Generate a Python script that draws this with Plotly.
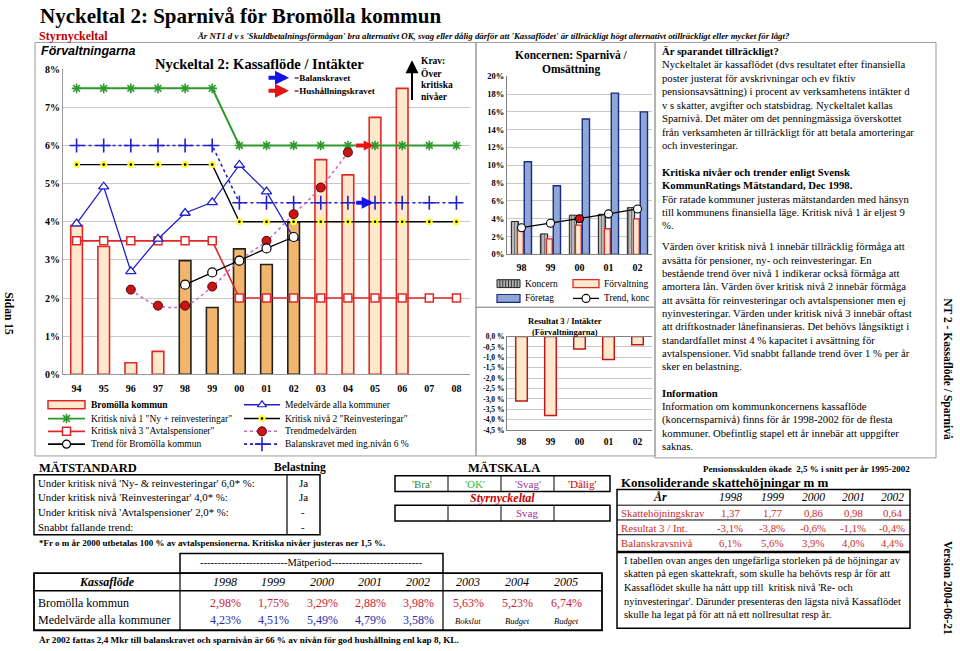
import plotly.graph_objects as go

W, H = 960, 651
SERIF = "Liberation Serif"
SANS = "Liberation Sans"

# ------------------------------------------------------------------ data
years_main = ['94', '95', '96', '97', '98', '99', '00', '01', '02',
              '03', '04', '05', '06', '07', '08']
period_years = ['98', '99', '00', '01', '02']
bromolla = [3.90, 3.35, 0.30, 0.60, 2.98, 1.75, 3.29, 2.88, 3.98,
            5.63, 5.23, 6.74, 7.50, None, None]
krit1 = [7.5, 7.5, 7.5, 7.5, 7.5, 7.5, 6.0, 6.0, 6.0, 6.0, 6.0, 6.0, 6.0, 6.0, 6.0]
krit2 = [5.5, 5.5, 5.5, 5.5, 5.5, 5.5, 4.0, 4.0, 4.0, 4.0, 4.0, 4.0, 4.0, 4.0, 4.0]
krit3 = [3.5, 3.5, 3.5, 3.5, 3.5, 3.5, 2.0, 2.0, 2.0, 2.0, 2.0, 2.0, 2.0, 2.0, 2.0]
medel = [3.95, 4.92, 2.70, 3.55, 4.23, 4.51, 5.49, 4.79, 3.58,
         None, None, None, None, None, None]
trendmedel = [None, None, 2.22, 1.80, 1.80, 2.30, 2.98, 3.50, 4.20,
              4.90, 5.82, None, None, None, None]
trend_brom = [None, None, None, None, 2.35, 2.67, 2.98, 3.30, 3.60,
              None, None, None, None, None, None]
balans = [6.0, 6.0, 6.0, 6.0, 6.0, 6.0, 4.5, 4.5, 4.5, 4.5, 4.5, 4.5, 4.5, 4.5, 4.5]
arrow_year = '04'
hushallning_niva = 6.0
balanskrav_niva = 4.5

k_years = ['98', '99', '00', '01', '02']
koncern = [3.70, 2.30, 4.40, 4.50, 5.25]
forvaltning = [2.98, 1.75, 3.29, 2.88, 3.98]
foretag = [10.4, 7.7, 15.2, 18.1, 16.0]
trend_konc = [3.0, 3.5, 4.0, 4.55, 5.1]

res_years = ['98', '99', '00', '01', '02']
resultat3 = [-3.1, -3.8, -0.6, -1.1, -0.4]
res_tickvals = [0.0, -0.5, -1.0, -1.5, -2.0, -2.5, -3.0, -3.5, -4.0, -4.5]
res_ticktext = ['0,0 %', '-0,5 %', '-1,0 %', '-1,5 %', '-2,0 %', '-2,5 %',
                '-3,0 %', '-3,5 %', '-4,0 %', '-4,5 %']

kassa_years = ['1998', '1999', '2000', '2001', '2002', '2003', '2004', '2005']
kassa_brom = [2.98, 1.75, 3.29, 2.88, 3.98, 5.63, 5.23, 6.74]
kassa_medel = [4.23, 4.51, 5.49, 4.79, 3.58]
kassa_notes = ['Bokslut', 'Budget', 'Budget']

kons_years = ['1998', '1999', '2000', '2001', '2002']
skatt = [1.37, 1.77, 0.86, 0.98, 0.64]
res3_int = [-3.1, -3.8, -0.6, -1.1, -0.4]
balansniva = [6.1, 5.6, 3.9, 4.0, 4.4]

matstd_rows = ["Under kritisk nivå 'Ny- & reinvesteringar' 6,0* %:",
               "Under kritisk nivå 'Reinvesteringar' 4,0* %:",
               "Under kritisk nivå 'Avtalspensioner' 2,0* %:",
               "Snabbt fallande trend:"]
belastning = ['Ja', 'Ja', '-', '-']
skala = ["'Bra'", "'OK'", "'Svag'", "'Dålig'"]
skala_colors = ['#2E8B2E', '#33BB33', '#993399', '#CC0000']
skala_result = ['', '', 'Svag', '']


def pct(v, d=2):
    return (f"{v:.{d}f}").replace('.', ',') + '%'


# ------------------------------------------------------------------ figure
fig = go.Figure()
xi = list(range(len(years_main)))

LIGHT = '#FEE9CC'
DARK = '#F3B56C'
RED = '#E02828'
BLUE = '#2020CC'
GREEN = '#2E9A2E'

bar_fill = [DARK if y in period_years else LIGHT for y in years_main]
bar_line = ['#222222' if y in period_years else RED for y in years_main]

fig.add_trace(go.Bar(x=xi, y=bromolla, width=0.43,
                     marker=dict(color=bar_fill, line=dict(color=bar_line, width=1.6)),
                     xaxis='x', yaxis='y'))
# Kritisk nivå 3
fig.add_trace(go.Scatter(x=xi, y=krit3, mode='lines+markers',
                         line=dict(color=RED, width=1.6),
                         marker=dict(symbol='square', size=8, color='white',
                                     line=dict(color=RED, width=1.5)),
                         xaxis='x', yaxis='y'))
# Kritisk nivå 2
fig.add_trace(go.Scatter(x=xi, y=krit2, mode='lines+markers',
                         line=dict(color='black', width=1.4),
                         marker=dict(symbol='circle', size=7, color='#FFFF33',
                                     line=dict(width=0)),
                         xaxis='x', yaxis='y'))
fig.add_trace(go.Scatter(x=xi, y=krit2, mode='markers',
                         marker=dict(symbol='circle', size=2.6, color='black'),
                         xaxis='x', yaxis='y'))
# Kritisk nivå 1
fig.add_trace(go.Scatter(x=xi, y=krit1, mode='lines+markers',
                         line=dict(color=GREEN, width=2),
                         marker=dict(symbol='asterisk-open', size=8, color=GREEN,
                                     line=dict(color=GREEN, width=1.6)),
                         xaxis='x', yaxis='y'))
# Balanskravet
fig.add_trace(go.Scatter(x=xi, y=balans, mode='lines+markers',
                         line=dict(color=BLUE, width=1.6, dash='dot'),
                         marker=dict(symbol='cross-thin-open', size=10, color=BLUE,
                                     line=dict(color=BLUE, width=1.6)),
                         xaxis='x', yaxis='y'))
# Medelvärde alla kommuner
fig.add_trace(go.Scatter(x=xi, y=medel, mode='lines+markers',
                         line=dict(color=BLUE, width=1.3),
                         marker=dict(symbol='triangle-up', size=9, color='white',
                                     line=dict(color=BLUE, width=1.3)),
                         xaxis='x', yaxis='y'))
# Trendmedelvärden
fig.add_trace(go.Scatter(x=xi, y=trendmedel, mode='lines',
                         line=dict(color='#CC66CC', width=1.5, dash='dot', shape='spline'),
                         xaxis='x', yaxis='y'))
fig.add_trace(go.Scatter(x=xi, y=trendmedel, mode='markers',
                         marker=dict(symbol='circle', size=9, color='#CC1414',
                                     line=dict(color='#550000', width=1)),
                         xaxis='x', yaxis='y'))
# Trend för Bromölla
fig.add_trace(go.Scatter(x=xi, y=trend_brom, mode='lines+markers',
                         line=dict(color='black', width=1.3),
                         marker=dict(symbol='circle', size=9, color='white',
                                     line=dict(color='black', width=1.2)),
                         xaxis='x', yaxis='y'))

# ---- Koncern chart
kx = list(range(len(k_years)))
fig.add_trace(go.Bar(x=kx, y=koncern, offset=-0.35, width=0.25,
                     marker=dict(color='#A8A8A8', line=dict(color='#222222', width=1),
                                 pattern=dict(shape='|', fgcolor='#333333', bgcolor='#B8B8B8',
                                              size=3, solidity=0.35)),
                     xaxis='x2', yaxis='y2'))
fig.add_trace(go.Bar(x=kx, y=forvaltning, offset=-0.14, width=0.2,
                     marker=dict(color=LIGHT, line=dict(color=RED, width=1.3)),
                     xaxis='x2', yaxis='y2'))
fig.add_trace(go.Bar(x=kx, y=foretag, offset=0.095, width=0.25,
                     marker=dict(color='#8FA6D6', line=dict(color='#1A2A80', width=1.4)),
                     xaxis='x2', yaxis='y2'))
fig.add_trace(go.Scatter(x=kx, y=trend_konc, mode='lines+markers',
                         line=dict(color='black', width=1.3),
                         marker=dict(symbol='circle', size=8,
                                     color=['#CC1414' if y == '00' else 'white' for y in k_years],
                                     line=dict(color='black', width=1.1)),
                         xaxis='x2', yaxis='y2'))

# ---- Resultat 3 chart
rx = list(range(len(res_years)))
fig.add_trace(go.Bar(x=rx, y=resultat3, width=0.4,
                     marker=dict(color=LIGHT, line=dict(color='#C01818', width=1.5)),
                     xaxis='x3', yaxis='y3'))

# ------------------------------------------------------------------ overlay helpers (pixel coords)
shapes = []
annotations = []


def rect(x0, y0, x1, y1, color='black', width=1, fill='rgba(0,0,0,0)'):
    shapes.append(dict(type='rect', xref='x4', yref='y4', x0=x0, y0=y0, x1=x1, y1=y1,
                       line=dict(color=color, width=width), fillcolor=fill, layer='above'))


def hline(x0, x1, y, color='black', width=1, dash='solid'):
    shapes.append(dict(type='line', xref='x4', yref='y4', x0=x0, y0=y, x1=x1, y1=y,
                       line=dict(color=color, width=width, dash=dash), layer='above'))


def vline(x, y0, y1, color='black', width=1):
    shapes.append(dict(type='line', xref='x4', yref='y4', x0=x, y0=y0, x1=x, y1=y1,
                       line=dict(color=color, width=width), layer='above'))


def text(x, y, s, size=11, color='black', anchor='left', family=SERIF, angle=0):
    annotations.append(dict(x=x, y=y, xref='x4', yref='y4', text=s, showarrow=False,
                            xanchor=anchor, yanchor='middle', textangle=angle,
                            font=dict(family=family, size=size, color=color)))


def arrow(x_head, y_head, x_tail, y_tail, color, width, head=2, size=1.0, ref='x4'):
    yref = 'y4' if ref == 'x4' else ref.replace('x', 'y')
    annotations.append(dict(x=x_head, y=y_head, ax=x_tail, ay=y_tail, xref=ref, yref=yref,
                            axref=ref, ayref=yref, showarrow=True, arrowhead=head,
                            arrowsize=size, arrowwidth=width, arrowcolor=color, text=''))


def sample(x0, x1, y, line_color, dash='solid', lw=1.5, symbol=None, msize=8,
           mcolor='white', mline=None, mlw=1.2):
    fig.add_trace(go.Scatter(x=[x0, x1], y=[y, y], mode='lines',
                             line=dict(color=line_color, width=lw, dash=dash),
                             xaxis='x4', yaxis='y4'))
    if symbol:
        fig.add_trace(go.Scatter(x=[(x0 + x1) / 2], y=[y], mode='markers',
                                 marker=dict(symbol=symbol, size=msize, color=mcolor,
                                             line=dict(color=mline or line_color, width=mlw)),
                                 xaxis='x4', yaxis='y4'))


# ------------------------------------------------------------------ header
text(38, 11, "<b>Nyckeltal 2: Sparnivå för Bromölla kommun</b>", 21)
text(37, 31, "<b>Styrnyckeltal</b>", 12, color='#C00000')
text(195, 31, "<b><i>Är NT1 d v s 'Skuldbetalningsförmågan' bra alternativt OK, svag eller dålig "
              "därför att 'Kassaflödet' är tillräckligt högt alternativt otillräckligt eller mycket "
              "för lågt?</i></b>", 8.8)
text(9, 313, "<b>Sidan 15</b>", 11.5, anchor='center', angle=90)
text(948, 370, "<b>NT 2 - Kassaflöde / Sparnivå</b>", 11.5, anchor='center', angle=90)
text(948, 592, "<b>Version 2004-06-21</b>", 11.5, anchor='center', angle=90)

# ------------------------------------------------------------------ main chart decorations
rect(35, 38, 476, 458, color='#9A9A9A', width=1)
text(39, 47, "<b><i>Förvaltningarna</i></b>", 12.5, family=SANS)
text(259, 60, "<b>Nyckeltal 2: Kassaflöde / Intäkter</b>", 14.5, anchor='center')
arrow(289, 74, 267, 74, '#1414E6', 4, head=2, size=0.7)
arrow(289, 87, 267, 87, '#E61414', 4, head=2, size=0.7)
text(292, 74, "<b>=Balanskravet</b>", 9)
text(292, 87, "<b>=Hushållningskravet</b>", 9)
arrow(412, 56, 412, 98, 'black', 2, head=2, size=1.3)
for i, s in enumerate(["Krav:", "Över", "kritiska", "nivåer"]):
    text(419, 57 + i * 12.2, f"<b>{s}</b>", 9.5)

ai = years_main.index(arrow_year)
arrow(ai + 0.95, hushallning_niva, ai + 0.25, hushallning_niva, '#E61414', 4, head=2, size=0.5, ref='x')
arrow(ai + 0.95, balanskrav_niva, ai + 0.25, balanskrav_niva, '#1414E6', 4, head=2, size=0.6, ref='x')

# main legend
LX0, LX1, LT = 48, 85, 89
RX0, RX1, RT = 244, 280, 283
ROWS = [406, 420, 433, 446]
LEG = 9.5
rect(LX0, ROWS[0] - 4, LX1, ROWS[0] + 4, color=RED, width=1.5, fill=LIGHT)
text(LT, ROWS[0], "<b>Bromölla kommun</b>", LEG)
sample(LX0, LX1, ROWS[1], GREEN, lw=1.8, symbol='asterisk-open', msize=8, mcolor=GREEN, mlw=1.6)
text(LT, ROWS[1], 'Kritisk nivå 1 "Ny + reinvesteringar"', LEG)
sample(LX0, LX1, ROWS[2], RED, lw=1.6, symbol='square', msize=8, mcolor='white', mlw=1.5)
text(LT, ROWS[2], 'Kritisk nivå 3 "Avtalspensioner"', LEG)
sample(LX0, LX1, ROWS[3], 'black', lw=1.6, symbol='circle', msize=8, mcolor='white', mlw=1.2)
text(LT, ROWS[3], 'Trend för Bromölla kommun', LEG)
sample(RX0, RX1, ROWS[0], BLUE, lw=1.3, symbol='triangle-up', msize=8, mcolor='white')
text(RT, ROWS[0], 'Medelvärde alla kommuner', LEG)
sample(RX0, RX1, ROWS[1], 'black', lw=1.5, symbol='circle', msize=7, mcolor='#FFFF33', mline='#FFFF33', mlw=0)
fig.add_trace(go.Scatter(x=[(RX0 + RX1) / 2], y=[ROWS[1]], mode='markers',
                         marker=dict(size=2.6, color='black'), xaxis='x4', yaxis='y4'))
text(RT, ROWS[1], 'Kritisk nivå 2 "Reinvesteringar"', LEG)
sample(RX0, RX1, ROWS[2], '#CC66CC', dash='dot', lw=1.5, symbol='circle', msize=9,
       mcolor='#CC1414', mline='#550000', mlw=1)
text(RT, ROWS[2], 'Trendmedelvärden', LEG)
sample(RX0, RX1, ROWS[3], BLUE, dash='dot', lw=1.6, symbol='cross-thin-open', msize=10,
       mcolor=BLUE, mlw=1.6)
text(RT, ROWS[3], 'Balanskravet med ing.nivån 6 %', LEG)

# ------------------------------------------------------------------ koncern chart decorations
rect(476, 38, 655, 307, color='#9A9A9A', width=1)
rect(476, 307, 655, 458, color='#9A9A9A', width=1)
text(571, 51, "<b>Koncernen: Sparnivå /</b>", 11.5, anchor='center')
text(571, 65, "<b>Omsättning</b>", 11.5, anchor='center')
# legend
KL0, KL1, KLT = 497, 520, 523
KR0, KR1, KRT = 573, 599, 602
rect(KL0, 279, KL1, 287, color='#222222', width=1, fill='#B0B0B0')
for k in range(1, 8):
    vline(KL0 + k * (KL1 - KL0) / 8, 279, 287, color='#333333', width=1)
text(KLT, 283, "Koncern", 9.5)
rect(KR0, 279, KR1, 287, color=RED, width=1.3, fill=LIGHT)
text(KRT, 283, "Förvaltning", 9.5)
rect(KL0, 294, KL1, 302, color='#1A2A80', width=1.2, fill='#8FA6D6')
text(KLT, 298, "Företag", 9.5)
sample(KR0, KR1, 298, 'black', lw=1.3, symbol='circle', msize=8, mcolor='white', mlw=1.1)
text(KRT, 298, "Trend, konc", 9.5)

text(565, 321, "<b>Resultat 3 / Intäkter</b>", 8.5, anchor='center')
text(565, 332, "<b>(Förvaltningarna)</b>", 8.5, anchor='center')

# ------------------------------------------------------------------ right text box
rect(655, 38, 936, 460, color='#9A9A9A', width=1)
block1 = ["<b>Är sparandet tillräckligt?</b>",
          "Nyckeltalet är kassaflödet (dvs resultatet efter finansiella",
          "poster justerat för avskrivningar och ev fiktiv",
          "pensionsavsättning) i procent av verksamhetens intäkter d",
          "v s skatter, avgifter och statsbidrag. Nyckeltalet kallas",
          "Sparnivå. Det mäter om det penningmässiga överskottet",
          "från verksamheten är tillräckligt för att betala amorteringar",
          "och investeringar.",
          "",
          "<b>Kritiska nivåer och trender enligt Svensk</b>",
          "<b>KommunRatings Mätstandard, Dec 1998.</b>",
          "För ratade kommuner justeras mätstandarden med hänsyn",
          "till kommunens finansiella läge. Kritisk nivå 1 är eljest 9",
          "%."]
for i, s in enumerate(block1):
    if s:
        text(660, 47 + i * 13.6, s, 10.7)
block2 = ["Värden över kritisk nivå 1 innebär tillräcklig förmåga att",
          "avsätta för pensioner, ny- och reinvesteringar. En",
          "bestående trend över nivå 1 indikerar också förmåga att",
          "amortera lån. Värden över kritisk nivå 2 innebär förmåga",
          "att avsätta för reinvesteringar och avtalspensioner men ej",
          "nyinvesteringar. Värden under kritisk nivå 3 innebär oftast",
          "att driftkostnader lånefinansieras. Det behövs långsiktigt i",
          "standardfallet minst 4 % kapacitet i avsättning för",
          "avtalspensioner. Vid snabbt fallande trend över 1 % per år",
          "sker en belastning.",
          "",
          "<b>Information</b>",
          "Information om kommunkoncernens kassaflöde",
          "(koncernsparnivå) finns för år 1998-2002 för de flesta",
          "kommuner. Obefintlig stapel ett år innebär att uppgifter",
          "saknas."]
for i, s in enumerate(block2):
    if s:
        text(660, 245 + i * 13.55, s, 10.7)

# ------------------------------------------------------------------ MÄTSTANDARD
text(37, 470, "<b>MÄTSTANDARD</b>", 12.5)
text(300, 470, "<b>Belastning</b>", 11.5, anchor='center')
rect(34, 477, 320, 538, color='black', width=1.5)
vline(287, 477, 538, color='black', width=1.2)
for i, (s, b) in enumerate(zip(matstd_rows, belastning)):
    yy = 485 + i * 15
    text(36, yy, s, 10.8)
    text(303, yy, b, 11, anchor='center')
text(37, 546, "<b>*Fr o m år 2000 utbetalas 100 % av avtalspensionerna. Kritiska nivåer justeras ner 1,5 %.</b>", 9)

# MÄTSKALA
text(504, 470, "<b>MÄTSKALA</b>", 12.5, anchor='center')
cells = [395, 448, 501, 554, 610]
rect(cells[0], 478, cells[-1], 494, color='black', width=1.5)
rect(cells[0], 508, cells[-1], 524, color='black', width=1.5)
for c in cells[1:-1]:
    vline(c, 478, 494, width=1)
    vline(c, 508, 524, width=1)
for i, (s, col, r) in enumerate(zip(skala, skala_colors, skala_result)):
    cx = (cells[i] + cells[i + 1]) / 2
    text(cx, 486, s, 11, color=col, anchor='center')
    if r:
        text(cx, 516, r, 11, color='#993399', anchor='center')
text(502, 501, "<b><i>Styrnyckeltal</i></b>", 12, color='#CC0000', anchor='center')

# ------------------------------------------------------------------ Konsoliderande
text(912, 471, "<b>Pensionsskulden ökade  2,5 % i snitt per år 1995-2002</b>", 9, anchor='right')
text(619, 485, "<b>Konsoliderande skattehöjningar m m</b>", 13)
rect(617, 492, 910, 555, color='black', width=1.5)
for yy in [508, 523, 538]:
    hline(617, 910, yy, width=1)
kcols = [730, 772, 813, 853, 892]
KRED = '#CC2B2B'
text(660, 500, "<b><i>År</i></b>", 12, anchor='center')
for cx, yv in zip(kcols, kons_years):
    text(cx, 500, f"<i>{yv}</i>", 11.5, anchor='center')
text(619, 516, "Skattehöjningskrav", 10.8, color=KRED)
text(619, 531, "Resultat 3 / Int.", 10.8, color=KRED)
text(619, 546, "Balanskravsnivå", 10.8, color=KRED)
for cx, a, b, c in zip(kcols, skatt, res3_int, balansniva):
    text(cx, 516, f"{a:.2f}".replace('.', ','), 10.8, color=KRED, anchor='center')
    text(cx, 531, pct(b, 1), 10.8, color=KRED, anchor='center')
    text(cx, 546, pct(c, 1), 10.8, color=KRED, anchor='center')
rect(617, 556, 910, 633, color='black', width=1.5)
note_lines = ["I tabellen ovan anges den ungefärliga storleken på de höjningar av",
              "skatten på egen skattekraft, som skulle ha behövts resp år för att",
              "Kassaflödet skulle ha nått upp till  kritisk nivå 'Re- och",
              "nyinvesteringar'. Därunder presenteras den lägsta nivå Kassaflödet",
              "skulle ha legat på för att nå ett nollresultat resp år."]
for i, s in enumerate(note_lines):
    text(622, 564 + i * 13.8, s, 10.4)

# ------------------------------------------------------------------ Kassaflöde table
rect(180, 557, 443, 577, color='black', width=1.5)
text(311, 566, "-------------------------Mätperiod--------------------------", 10.5, anchor='center')
rect(34, 577, 602, 635, color='black', width=1.8)
hline(34, 602, 595, width=1.5)
vline(180, 577, 635, width=1.2)
vline(443, 577, 635, width=1.2)
kcx = [225, 273, 322, 370, 418, 468, 517, 566]
text(107, 586, "<b><i>Kassaflöde</i></b>", 12, anchor='center')
for cx, yv in zip(kcx, kassa_years):
    text(cx, 586, f"<i>{yv}</i>", 12, anchor='center')
text(36, 607, "Bromölla kommun", 12)
text(36, 625, "Medelvärde alla kommuner", 12)
for cx, v in zip(kcx, kassa_brom):
    text(cx, 607, pct(v), 12, color='#CC2233', anchor='center')
for cx, v in zip(kcx, kassa_medel):
    text(cx, 625, pct(v), 12, color='#2828A8', anchor='center')
for cx, s in zip(kcx[len(kassa_medel):], kassa_notes):
    text(cx, 626, f"<i>{s}</i>", 8.5, anchor='center')
text(37, 645, "<b>År 2002 fattas 2,4 Mkr till balanskravet och sparnivån är 66 % av nivån för god "
              "hushållning enl kap 8, KL.</b>", 9.2)

# ------------------------------------------------------------------ layout
GRID = '#C8C8C8'
tick_b = dict(family=SERIF, size=10, color='black', weight='bold')
tick_s = dict(family=SERIF, size=8.5, color='black', weight='bold')


def ydom(top, bottom):
    return [1 - bottom / H, 1 - top / H]


fig.update_layout(
    width=W, height=H, margin=dict(l=0, r=0, t=0, b=0),
    paper_bgcolor='white', plot_bgcolor='rgba(0,0,0,0)',
    showlegend=False, barmode='overlay',
    xaxis=dict(domain=[63 / W, 470 / W], range=[-0.5, 14.5], tickvals=xi, ticktext=years_main,
               tickfont=tick_b, showgrid=False, showline=True, linecolor='#999999',
               zeroline=False, ticks='', ticklabelstandoff=5, anchor='y', fixedrange=True),
    yaxis=dict(domain=ydom(65.3, 375), range=[0, 8], dtick=1, ticksuffix='%',
               tickfont=tick_b, gridcolor=GRID, showline=True, linecolor='#999999',
               zeroline=False, anchor='x', fixedrange=True),
    xaxis2=dict(domain=[507 / W, 652 / W], range=[-0.5, 4.5], tickvals=kx, ticktext=k_years,
                tickfont=tick_b, showgrid=False, showline=True, linecolor='#808080',
                zeroline=False, ticks='', ticklabelstandoff=4, anchor='y2', fixedrange=True),
    yaxis2=dict(domain=ydom(72.3, 253.3), range=[0, 20], dtick=2, ticksuffix='%',
                tickfont=tick_s, gridcolor=GRID, showline=True, linecolor='#808080',
                zeroline=False, anchor='x2', fixedrange=True),
    xaxis3=dict(domain=[507 / W, 652 / W], range=[-0.5, 4.5], tickvals=rx, ticktext=res_years,
                tickfont=dict(family=SERIF, size=9.5, color='black', weight='bold'),
                showgrid=False, showline=True, linecolor='#808080', mirror=True,
                zeroline=False, ticks='', ticklabelstandoff=3, anchor='y3', fixedrange=True),
    yaxis3=dict(domain=ydom(336.7, 431.7), range=[-4.5, 0], tickvals=res_tickvals,
                ticktext=res_ticktext, tickfont=dict(family=SERIF, size=7.5, color='black', weight='bold'),
                gridcolor=GRID, showline=True, linecolor='#808080',
                zeroline=False, anchor='x3', fixedrange=True),
    xaxis4=dict(domain=[0, 1], range=[0, W], visible=False, anchor='y4', fixedrange=True),
    yaxis4=dict(domain=[0, 1], range=[H, 0], visible=False, anchor='x4', fixedrange=True),
    shapes=shapes, annotations=annotations,
)

fig.write_html("out.html", config={'displayModeBar': False},
               post_script="document.body.style.margin='0';document.body.style.overflow='hidden';")
